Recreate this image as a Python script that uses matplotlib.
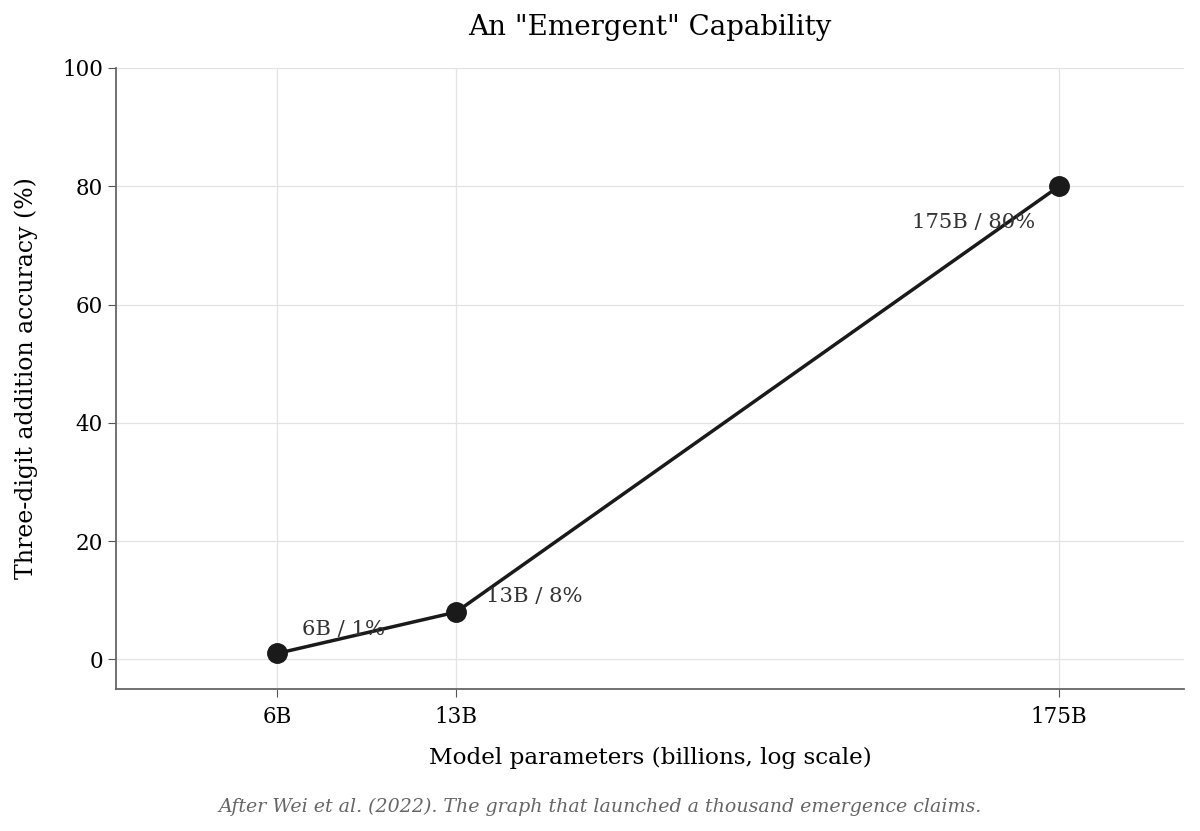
import matplotlib
matplotlib.use("Agg")
import matplotlib.pyplot as plt

params = [6, 13, 175]
accuracy = [1, 8, 80]
tick_labels = ["6B", "13B", "175B"]
point_labels = ["6B / 1%", "13B / 8%", "175B / 80%"]

plt.rcParams['font.family'] = ['DejaVu Serif']

fig = plt.figure(figsize=(12, 8.31), dpi=100)
ax = fig.add_axes([0.0967, 0.1709, 0.89, 0.7473])

ax.plot(params, accuracy, color="#1a1a1a", lw=2.5, marker="o", ms=14, zorder=3)

offsets = [((25, 24), "left"), ((30, 16), "left"), ((-24, -36), "right")]
for x, y, lab, (off, ha) in zip(params, accuracy, point_labels, offsets):
    ax.annotate(lab, (x, y), xytext=off, textcoords="offset pixels",
                ha=ha, va="center", fontsize=15.2, color="#333333")

ax.set_xscale("log")
ax.set_xlim(3, 300)
ax.set_ylim(-5, 100)
ax.set_xticks(params)
ax.set_xticklabels(tick_labels)
ax.minorticks_off()
ax.set_yticks([0, 20, 40, 60, 80, 100])
ax.tick_params(labelsize=15.5, color="#555555", length=6)
ax.tick_params(axis="x", pad=6)
ax.grid(True, color="#e3e3e3", lw=0.9)
ax.set_axisbelow(True)

for s in ["top", "right"]:
    ax.spines[s].set_visible(False)
for s in ["left", "bottom"]:
    ax.spines[s].set_color("#666666")
    ax.spines[s].set_linewidth(1.3)

ax.set_title('An "Emergent" Capability', fontsize=20, pad=24)
ax.set_xlabel("Model parameters (billions, log scale)", fontsize=16.7, labelpad=14)
ax.set_ylabel("Three-digit addition accuracy (%)", fontsize=17, labelpad=17)

fig.text(0.5, 0.023, "After Wei et al. (2022). The graph that launched a thousand emergence claims.",
         ha="center", fontsize=13.7, style="italic", color="#666666")

fig.savefig("out.png", dpi=100)
